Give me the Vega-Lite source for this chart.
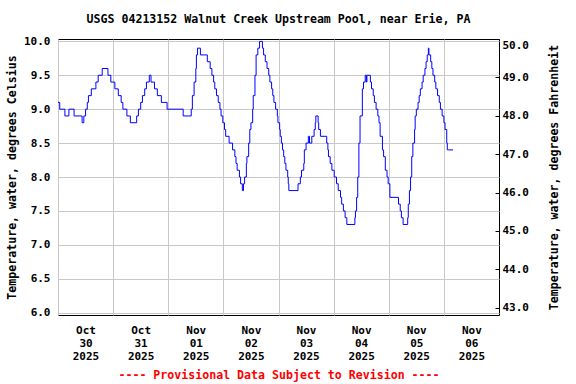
{
  "$schema": "https://vega.github.io/schema/vega-lite/v6.json",
  "autosize": {"type": "none"},
  "width": 441,
  "height": 276,
  "padding": {"left": 58, "top": 39, "right": 77, "bottom": 69},
  "background": "white",
  "title": {
    "text": "USGS 04213152 Walnut Creek Upstream Pool, near Erie, PA",
    "font": "DejaVu Sans Mono",
    "fontSize": 11.6,
    "fontWeight": "bold",
    "color": "black",
    "anchor": "middle",
    "frame": "group",
    "offset": 10
  },
  "config": {
    "view": {"stroke": "black", "strokeWidth": 1},
    "axis": {
      "labelFont": "DejaVu Sans Mono",
      "labelFontWeight": "bold",
      "labelFontSize": 11,
      "labelColor": "black",
      "titleFont": "DejaVu Sans Mono",
      "titleFontWeight": "bold",
      "titleFontSize": 11.6,
      "titleColor": "black",
      "gridColor": "#c8c8c8",
      "gridOpacity": 1,
      "gridWidth": 1
    }
  },
  "layer": [
    {
      "data": {
        "values": [
          {"t": "2025-10-30T00:00", "temp": 9.1},
          {"t": "2025-10-30T00:45", "temp": 9.0},
          {"t": "2025-10-30T03:00", "temp": 8.9},
          {"t": "2025-10-30T04:45", "temp": 9.0},
          {"t": "2025-10-30T07:00", "temp": 8.9},
          {"t": "2025-10-30T10:30", "temp": 8.8},
          {"t": "2025-10-30T11:15", "temp": 8.9},
          {"t": "2025-10-30T12:00", "temp": 9.0},
          {"t": "2025-10-30T12:45", "temp": 9.1},
          {"t": "2025-10-30T13:15", "temp": 9.2},
          {"t": "2025-10-30T14:30", "temp": 9.3},
          {"t": "2025-10-30T16:30", "temp": 9.4},
          {"t": "2025-10-30T17:30", "temp": 9.5},
          {"t": "2025-10-30T19:15", "temp": 9.6},
          {"t": "2025-10-30T21:45", "temp": 9.5},
          {"t": "2025-10-30T23:00", "temp": 9.4},
          {"t": "2025-10-31T00:45", "temp": 9.3},
          {"t": "2025-10-31T02:15", "temp": 9.2},
          {"t": "2025-10-31T03:30", "temp": 9.1},
          {"t": "2025-10-31T04:15", "temp": 9.0},
          {"t": "2025-10-31T06:00", "temp": 8.9},
          {"t": "2025-10-31T07:30", "temp": 8.8},
          {"t": "2025-10-31T10:15", "temp": 8.9},
          {"t": "2025-10-31T11:00", "temp": 9.0},
          {"t": "2025-10-31T12:00", "temp": 9.1},
          {"t": "2025-10-31T12:45", "temp": 9.2},
          {"t": "2025-10-31T13:45", "temp": 9.3},
          {"t": "2025-10-31T14:30", "temp": 9.4},
          {"t": "2025-10-31T15:45", "temp": 9.5},
          {"t": "2025-10-31T16:30", "temp": 9.4},
          {"t": "2025-10-31T18:00", "temp": 9.3},
          {"t": "2025-10-31T19:15", "temp": 9.2},
          {"t": "2025-10-31T21:00", "temp": 9.1},
          {"t": "2025-10-31T23:30", "temp": 9.0},
          {"t": "2025-11-01T06:30", "temp": 8.9},
          {"t": "2025-11-01T10:00", "temp": 9.0},
          {"t": "2025-11-01T10:30", "temp": 9.2},
          {"t": "2025-11-01T11:15", "temp": 9.4},
          {"t": "2025-11-01T12:00", "temp": 9.6},
          {"t": "2025-11-01T12:15", "temp": 9.8},
          {"t": "2025-11-01T12:45", "temp": 9.9},
          {"t": "2025-11-01T14:00", "temp": 9.8},
          {"t": "2025-11-01T17:00", "temp": 9.7},
          {"t": "2025-11-01T18:15", "temp": 9.6},
          {"t": "2025-11-01T19:00", "temp": 9.5},
          {"t": "2025-11-01T19:45", "temp": 9.4},
          {"t": "2025-11-01T20:15", "temp": 9.3},
          {"t": "2025-11-01T21:00", "temp": 9.2},
          {"t": "2025-11-01T21:45", "temp": 9.1},
          {"t": "2025-11-01T22:30", "temp": 9.0},
          {"t": "2025-11-01T23:00", "temp": 8.9},
          {"t": "2025-11-01T23:45", "temp": 8.8},
          {"t": "2025-11-02T00:30", "temp": 8.7},
          {"t": "2025-11-02T01:00", "temp": 8.6},
          {"t": "2025-11-02T02:30", "temp": 8.5},
          {"t": "2025-11-02T04:00", "temp": 8.4},
          {"t": "2025-11-02T05:00", "temp": 8.3},
          {"t": "2025-11-02T05:30", "temp": 8.2},
          {"t": "2025-11-02T06:00", "temp": 8.1},
          {"t": "2025-11-02T07:00", "temp": 8.0},
          {"t": "2025-11-02T07:30", "temp": 7.9},
          {"t": "2025-11-02T08:15", "temp": 7.8},
          {"t": "2025-11-02T08:45", "temp": 7.9},
          {"t": "2025-11-02T09:15", "temp": 8.0},
          {"t": "2025-11-02T10:00", "temp": 8.2},
          {"t": "2025-11-02T10:15", "temp": 8.3},
          {"t": "2025-11-02T11:00", "temp": 8.5},
          {"t": "2025-11-02T11:30", "temp": 8.7},
          {"t": "2025-11-02T12:00", "temp": 8.8},
          {"t": "2025-11-02T12:45", "temp": 9.0},
          {"t": "2025-11-02T13:00", "temp": 9.2},
          {"t": "2025-11-02T13:45", "temp": 9.5},
          {"t": "2025-11-02T14:15", "temp": 9.8},
          {"t": "2025-11-02T15:00", "temp": 9.9},
          {"t": "2025-11-02T15:45", "temp": 10.0},
          {"t": "2025-11-02T17:00", "temp": 9.9},
          {"t": "2025-11-02T17:30", "temp": 9.8},
          {"t": "2025-11-02T18:15", "temp": 9.7},
          {"t": "2025-11-02T19:00", "temp": 9.6},
          {"t": "2025-11-02T19:45", "temp": 9.5},
          {"t": "2025-11-02T20:15", "temp": 9.4},
          {"t": "2025-11-02T21:00", "temp": 9.3},
          {"t": "2025-11-02T21:30", "temp": 9.2},
          {"t": "2025-11-02T22:00", "temp": 9.1},
          {"t": "2025-11-02T22:45", "temp": 9.0},
          {"t": "2025-11-02T23:30", "temp": 8.9},
          {"t": "2025-11-02T23:45", "temp": 8.8},
          {"t": "2025-11-03T00:30", "temp": 8.7},
          {"t": "2025-11-03T00:45", "temp": 8.6},
          {"t": "2025-11-03T01:15", "temp": 8.5},
          {"t": "2025-11-03T01:45", "temp": 8.4},
          {"t": "2025-11-03T02:15", "temp": 8.3},
          {"t": "2025-11-03T02:45", "temp": 8.2},
          {"t": "2025-11-03T03:15", "temp": 8.1},
          {"t": "2025-11-03T04:00", "temp": 8.0},
          {"t": "2025-11-03T04:15", "temp": 7.9},
          {"t": "2025-11-03T04:30", "temp": 7.8},
          {"t": "2025-11-03T08:30", "temp": 7.9},
          {"t": "2025-11-03T09:30", "temp": 8.0},
          {"t": "2025-11-03T10:00", "temp": 8.1},
          {"t": "2025-11-03T11:00", "temp": 8.2},
          {"t": "2025-11-03T11:15", "temp": 8.4},
          {"t": "2025-11-03T12:00", "temp": 8.5},
          {"t": "2025-11-03T13:00", "temp": 8.6},
          {"t": "2025-11-03T13:30", "temp": 8.5},
          {"t": "2025-11-03T14:30", "temp": 8.6},
          {"t": "2025-11-03T15:30", "temp": 8.7},
          {"t": "2025-11-03T16:00", "temp": 8.8},
          {"t": "2025-11-03T16:15", "temp": 8.9},
          {"t": "2025-11-03T17:15", "temp": 8.8},
          {"t": "2025-11-03T17:30", "temp": 8.7},
          {"t": "2025-11-03T18:15", "temp": 8.6},
          {"t": "2025-11-03T21:00", "temp": 8.5},
          {"t": "2025-11-03T21:30", "temp": 8.4},
          {"t": "2025-11-03T21:45", "temp": 8.3},
          {"t": "2025-11-03T22:30", "temp": 8.2},
          {"t": "2025-11-03T23:15", "temp": 8.1},
          {"t": "2025-11-04T00:15", "temp": 8.0},
          {"t": "2025-11-04T01:15", "temp": 7.9},
          {"t": "2025-11-04T02:00", "temp": 7.8},
          {"t": "2025-11-04T03:00", "temp": 7.7},
          {"t": "2025-11-04T03:30", "temp": 7.6},
          {"t": "2025-11-04T04:15", "temp": 7.5},
          {"t": "2025-11-04T05:00", "temp": 7.4},
          {"t": "2025-11-04T05:45", "temp": 7.3},
          {"t": "2025-11-04T09:15", "temp": 7.4},
          {"t": "2025-11-04T09:30", "temp": 7.5},
          {"t": "2025-11-04T10:00", "temp": 7.7},
          {"t": "2025-11-04T10:30", "temp": 8.0},
          {"t": "2025-11-04T11:00", "temp": 8.5},
          {"t": "2025-11-04T11:30", "temp": 8.9},
          {"t": "2025-11-04T12:30", "temp": 9.3},
          {"t": "2025-11-04T13:00", "temp": 9.4},
          {"t": "2025-11-04T13:45", "temp": 9.5},
          {"t": "2025-11-04T14:15", "temp": 9.4},
          {"t": "2025-11-04T14:30", "temp": 9.5},
          {"t": "2025-11-04T16:00", "temp": 9.4},
          {"t": "2025-11-04T16:30", "temp": 9.3},
          {"t": "2025-11-04T17:15", "temp": 9.2},
          {"t": "2025-11-04T17:45", "temp": 9.1},
          {"t": "2025-11-04T18:30", "temp": 9.0},
          {"t": "2025-11-04T19:15", "temp": 8.9},
          {"t": "2025-11-04T19:45", "temp": 8.8},
          {"t": "2025-11-04T20:15", "temp": 8.6},
          {"t": "2025-11-04T21:15", "temp": 8.4},
          {"t": "2025-11-04T21:45", "temp": 8.3},
          {"t": "2025-11-04T22:30", "temp": 8.1},
          {"t": "2025-11-04T23:15", "temp": 8.0},
          {"t": "2025-11-04T23:45", "temp": 7.9},
          {"t": "2025-11-05T00:30", "temp": 7.7},
          {"t": "2025-11-05T04:15", "temp": 7.6},
          {"t": "2025-11-05T05:00", "temp": 7.5},
          {"t": "2025-11-05T05:30", "temp": 7.4},
          {"t": "2025-11-05T06:15", "temp": 7.3},
          {"t": "2025-11-05T08:15", "temp": 7.4},
          {"t": "2025-11-05T08:30", "temp": 7.6},
          {"t": "2025-11-05T09:00", "temp": 7.8},
          {"t": "2025-11-05T09:30", "temp": 8.0},
          {"t": "2025-11-05T10:00", "temp": 8.3},
          {"t": "2025-11-05T10:30", "temp": 8.5},
          {"t": "2025-11-05T11:15", "temp": 8.7},
          {"t": "2025-11-05T11:30", "temp": 8.9},
          {"t": "2025-11-05T12:00", "temp": 9.0},
          {"t": "2025-11-05T12:45", "temp": 9.1},
          {"t": "2025-11-05T13:15", "temp": 9.2},
          {"t": "2025-11-05T13:45", "temp": 9.3},
          {"t": "2025-11-05T14:30", "temp": 9.4},
          {"t": "2025-11-05T15:00", "temp": 9.5},
          {"t": "2025-11-05T15:45", "temp": 9.6},
          {"t": "2025-11-05T16:15", "temp": 9.7},
          {"t": "2025-11-05T16:45", "temp": 9.8},
          {"t": "2025-11-05T17:15", "temp": 9.9},
          {"t": "2025-11-05T17:30", "temp": 9.8},
          {"t": "2025-11-05T18:15", "temp": 9.7},
          {"t": "2025-11-05T18:45", "temp": 9.6},
          {"t": "2025-11-05T19:15", "temp": 9.5},
          {"t": "2025-11-05T20:00", "temp": 9.4},
          {"t": "2025-11-05T20:30", "temp": 9.3},
          {"t": "2025-11-05T21:15", "temp": 9.2},
          {"t": "2025-11-05T22:00", "temp": 9.1},
          {"t": "2025-11-05T22:30", "temp": 9.0},
          {"t": "2025-11-05T23:15", "temp": 8.9},
          {"t": "2025-11-06T00:00", "temp": 8.8},
          {"t": "2025-11-06T00:30", "temp": 8.7},
          {"t": "2025-11-06T01:15", "temp": 8.5},
          {"t": "2025-11-06T01:30", "temp": 8.4},
          {"t": "2025-11-06T04:00", "temp": 8.4}
        ]
      },
      "mark": {"type": "line", "color": "#0000ff", "strokeWidth": 1, "interpolate": "step-after", "clip": true},
      "encoding": {
        "x": {
          "field": "t",
          "type": "temporal",
          "scale": {
            "domain": [
              {"year": 2025, "month": 10, "date": 30, "hours": 0},
              {"year": 2025, "month": 11, "date": 7, "hours": 0}
            ]
          },
          "axis": {
            "values": [
              {"year": 2025, "month": 10, "date": 30},
              {"year": 2025, "month": 10, "date": 31},
              {"year": 2025, "month": 11, "date": 1},
              {"year": 2025, "month": 11, "date": 2},
              {"year": 2025, "month": 11, "date": 3},
              {"year": 2025, "month": 11, "date": 4},
              {"year": 2025, "month": 11, "date": 5},
              {"year": 2025, "month": 11, "date": 6}
            ],
            "labelExpr": "[timeFormat(datum.value, '%b'), timeFormat(datum.value, '%d'), timeFormat(datum.value, '%Y')]",
            "labelOffset": 27.5,
            "labelFlush": false,
            "labelOverlap": false,
            "labelBound": false,
            "labelAlign": "center",
            "labelBaseline": "top",
            "labelLineHeight": 13,
            "labelPadding": 9,
            "ticks": false,
            "domain": false,
            "grid": true,
            "title": "---- Provisional Data Subject to Revision ----",
            "titleColor": "#ff0000",
            "titlePadding": 8
          }
        },
        "y": {
          "field": "temp",
          "type": "quantitative",
          "scale": {"domain": [5.965, 10.035], "nice": false, "zero": false},
          "axis": {
            "orient": "left",
            "values": [6, 6.5, 7, 7.5, 8, 8.5, 9, 9.5, 10],
            "format": ".1f",
            "ticks": false,
            "domain": false,
            "grid": true,
            "labelPadding": 8,
            "labelFlush": false,
            "title": "Temperature, water, degrees Celsius",
            "titlePadding": 6
          }
        }
      }
    },
    {
      "data": {"values": [{"degF": 43}, {"degF": 50}]},
      "mark": {"type": "point", "opacity": 0},
      "encoding": {
        "y": {
          "field": "degF",
          "type": "quantitative",
          "scale": {"domain": [42.81, 50], "nice": false, "zero": false},
          "axis": {
            "orient": "right",
            "values": [43, 44, 45, 46, 47, 48, 49, 50],
            "format": ".1f",
            "grid": false,
            "domain": false,
            "ticks": true,
            "tickSize": -4,
            "tickColor": "black",
            "labelPadding": 7,
            "labelFlush": true,
            "title": "Temperature, water, degrees Fahrenheit",
            "titleAngle": -90,
            "titleBaseline": "top",
            "titlePadding": 20
          }
        }
      }
    }
  ],
  "resolve": {"scale": {"y": "independent"}}
}
